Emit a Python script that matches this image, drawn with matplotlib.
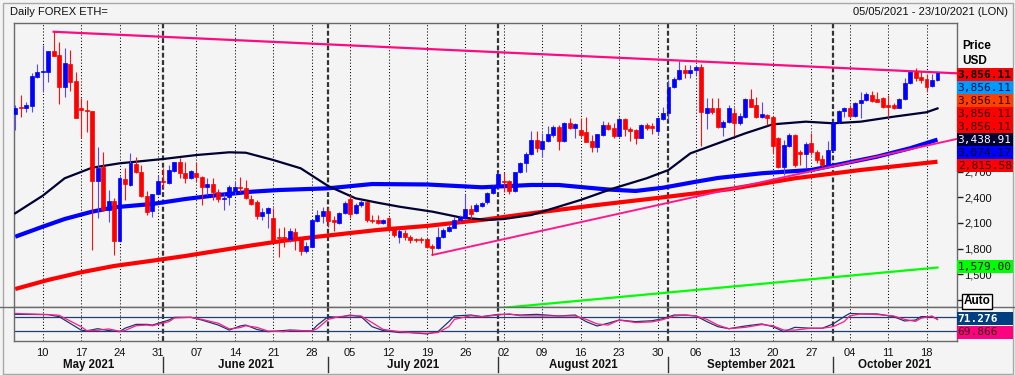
import numpy as np
import pandas as pd
import matplotlib
matplotlib.use("Agg")
import matplotlib.pyplot as plt
import matplotlib.transforms as mtransforms
from matplotlib.patches import Rectangle

plt.rcParams['font.family'] = ['Liberation Sans', 'DejaVu Sans']

START = "2021-05-05"
END = "2021-10-23"

# daily OHLC, 5 May -> 20 Oct 2021
opens = [
    3373, 3448, 3440, 3471, 3810, 3868, 3868, 4110, 4063, 3685, 3954, 3759, 3440, 3420,
    3409, 2594, 2758, 2251, 2356, 1889, 2614, 2544, 2785, 2699, 2419, 2240, 2434,
    # June
    2590, 2563, 2711, 2808, 2688, 2621, 2680, 2641, 2524, 2551, 2466, 2376, 2407, 2473, 2524,
    2512, 2376, 2349, 2181, 2220, 2154, 1940, 1940, 1909, 1998, 1909, 1772, 1823, 2127, 2185,
    # July
    2240, 2135, 2096, 2213, 2376, 2213, 2310, 2345, 2135, 2135, 2104, 2154, 2037, 1940, 1987,
    1940, 1913, 1909, 1909, 1831, 1803, 1932, 2010, 2037, 2135, 2154, 2263, 2244, 2300, 2350, 2450,
    # August
    2525, 2591, 2591, 2474, 2692, 2797, 2907, 3070, 2965, 3059, 3129, 3226, 3059, 3265, 3207,
    3187, 3160, 3059, 2992, 3129, 3246, 3214, 3121, 3316, 3199, 3187, 3098, 3246, 3238, 3176, 3316,
    # September
    3382, 3694, 3783, 3889, 3850, 3889, 3928, 3382, 3440, 3448, 3226, 3277, 3382, 3265, 3343,
    3546, 3479, 3343, 3362, 3343, 3090, 2759, 3004, 3129, 2926, 2903, 3031, 2934, 2848, 2778,
    # October
    2953, 3277, 3409, 3448, 3355, 3499, 3538, 3596, 3550, 3565, 3479, 3479, 3448, 3550, 3733,
    3861, 3811, 3783, 3705, 3772,
]
highs = [
    3479, 3596, 3518, 3849, 3958, 4180, 4110, 4336, 4211, 4149, 4122, 3868, 3557, 3537,
    3413, 2992, 2925, 2485, 2388, 2653, 2738, 2914, 2875, 2777, 2473, 2438, 2660,
    2738, 2777, 2816, 2855, 2816, 2719, 2816, 2649, 2621, 2629, 2497, 2446, 2544, 2582, 2641,
    2602, 2427, 2369, 2271, 2291, 2271, 2037, 2049, 2037, 2037, 1932, 1881, 2143, 2252, 2291,
    2291, 2181, 2232, 2361, 2427, 2330, 2369, 2349, 2193, 2193, 2150, 2166, 2057, 2026, 2018,
    1959, 1928, 1940, 1920, 1854, 2049, 2037, 2088, 2174, 2193, 2439, 2310, 2337, 2350, 2460, 2540,
    2692, 2692, 2603, 2700, 2817, 2934, 3175, 3175, 3156, 3238, 3246, 3246, 3285, 3324, 3265,
    3324, 3343, 3129, 3144, 3292, 3285, 3265, 3343, 3331, 3226, 3199, 3253, 3265, 3265, 3343, 3460,
    3772, 3811, 3994, 3947, 3947, 3947, 3955, 3557, 3557, 3565, 3304, 3479, 3448, 3382, 3565,
    3663, 3577, 3518, 3370, 3351, 3109, 3070, 3148, 3144, 2953, 3043, 3148, 2953, 2895, 3059,
    3292, 3421, 3460, 3479, 3518, 3628, 3628, 3643, 3628, 3577, 3596, 3499, 3557, 3799, 3889,
    3908, 3877, 3838, 3838, 3877,
]
lows = [
    3186, 3342, 3401, 3401, 3791, 3635, 3744, 4055, 3490, 3576, 3642, 3323, 3097, 3167,
    1784, 2154, 2243, 2115, 1725, 1881, 2368, 2536, 2680, 2407, 2193, 2173, 2427,
    2505, 2551, 2699, 2621, 2563, 2614, 2582, 2310, 2427, 2368, 2349, 2251, 2310, 2427, 2466,
    2376, 2306, 2143, 2135, 2037, 1893, 1706, 1815, 1881, 1784, 1726, 1753, 1815, 2115, 2096,
    2057, 2010, 2088, 2205, 2154, 2205, 2291, 2115, 2096, 2088, 2088, 2010, 1940, 1870, 1901,
    1870, 1881, 1862, 1803, 1726, 1792, 1920, 1998, 2037, 2115, 2135, 2150, 2232, 2285, 2320, 2440,
    2505, 2466, 2435, 2458, 2680, 2700, 2900, 2934, 2875, 3043, 3109, 2953, 3043, 3199, 3090,
    3109, 3043, 2934, 2934, 3121, 3187, 3098, 3109, 3121, 3059, 3020, 3090, 3187, 3137, 3129, 3304,
    3304, 3674, 3772, 3799, 3800, 3830, 3004, 3199, 3370, 3214, 3121, 3265, 3121, 3246, 3324,
    3452, 3331, 3331, 3246, 2914, 2747, 2661, 2992, 2759, 2778, 2739, 2895, 2797, 2759, 2770,
    2942, 3265, 3343, 3324, 3343, 3323, 3526, 3518, 3511, 3448, 3343, 3433, 3440, 3538, 3721,
    3760, 3733, 3628, 3694, 3760,
]
closes = [
    3448, 3440, 3479, 3822, 3868, 3875, 4110, 4055, 3685, 3966, 3752, 3331, 3420, 3409,
    2594, 2746, 2251, 2356, 1889, 2621, 2551, 2797, 2699, 2419, 2232, 2434, 2590,
    2575, 2719, 2808, 2688, 2621, 2707, 2641, 2524, 2551, 2466, 2376, 2395, 2524, 2524, 2505,
    2388, 2322, 2181, 2232, 2271, 1901, 1928, 1928, 2010, 1901, 1772, 1831, 2135, 2193, 2240,
    2127, 2115, 2220, 2337, 2205, 2310, 2349, 2131, 2123, 2096, 2135, 2018, 1959, 2010, 1932,
    1901, 1905, 1901, 1823, 1803, 1940, 2018, 2049, 2135, 2174, 2263, 2200, 2310, 2330, 2455, 2530,
    2669, 2575, 2474, 2692, 2797, 2907, 3070, 2973, 3059, 3137, 3226, 3059, 3265, 3207, 3253,
    3129, 3051, 2992, 3137, 3246, 3199, 3121, 3316, 3199, 3176, 3098, 3246, 3214, 3214, 3324, 3382,
    3694, 3783, 3889, 3850, 3889, 3928, 3394, 3440, 3401, 3226, 3285, 3448, 3265, 3355, 3546,
    3460, 3343, 3370, 3331, 3004, 2759, 3012, 3129, 2778, 2903, 3020, 2934, 2836, 2778, 2953,
    3285, 3409, 3440, 3355, 3499, 3538, 3604, 3526, 3518, 3460, 3452, 3448, 3550, 3733, 3861,
    3799, 3772, 3694, 3772, 3856,
]

# overlay lines, knots as (days since 5 May, price)
ma_black_days = [0, 5, 9, 14, 19, 27, 33, 39, 42, 47, 52, 57, 62, 66, 70, 76, 81, 86, 89, 94,
                 100, 103, 109, 115, 119, 123, 128, 133, 138, 144, 149, 154, 160, 166, 168]
ma_black_vals = [2213, 2418, 2622, 2746, 2797, 2848, 2894, 2926, 2921, 2836, 2739, 2532, 2388,
                 2337, 2290, 2232, 2166, 2135, 2146, 2193, 2310, 2369, 2505, 2622, 2719, 2914,
                 3031, 3148, 3253, 3284, 3265, 3284, 3342, 3394, 3439]
ma_blue_days = [0, 5, 9, 14, 18, 25, 31, 37, 43, 48, 57, 65, 75, 85, 94, 99, 103, 108, 113,
                118, 124, 128, 136, 145, 151, 157, 163, 168]
ma_blue_vals = [1939, 2056, 2146, 2232, 2283, 2322, 2380, 2427, 2465, 2485, 2505, 2555, 2550,
                2517, 2544, 2544, 2520, 2491, 2474, 2512, 2582, 2626, 2681, 2719, 2797, 2875,
                2973, 3074]
ma_red_days = [0, 6, 12, 18, 25, 31, 37, 43, 49, 55, 66, 75, 82, 85, 94, 106, 117, 130, 142,
               154, 168]
ma_red_vals = [1328, 1434, 1523, 1597, 1659, 1714, 1776, 1837, 1893, 1939, 2018, 2065, 2115,
               2135, 2213, 2310, 2392, 2494, 2622, 2719, 2816]
resist_days = [7, 172]
resist_vals = [4335, 3848]
support_days = [76, 172]
support_vals = [1726, 3089]
green_days = [85, 168]
green_vals = [1085, 1579]

# stochastic-style oscillator
osc_days = [0, 6, 8, 12, 13, 15, 17, 19, 20, 22, 24, 25, 28, 29, 32, 34, 37, 39, 41, 42, 44,
            46, 49, 50, 54, 55, 57, 59, 61, 63, 65, 67, 70, 72, 75, 77, 79, 80, 83, 85, 88,
            90, 92, 95, 99, 102, 104, 106, 108, 110, 113, 116, 118, 120, 122, 124, 126, 128,
            130, 133, 136, 138, 140, 142, 145, 147, 149, 151, 152, 154, 157, 160, 162, 164,
            165, 167, 168]
osc_k = [93, 92, 83, 24, 20, 30, 22, 17, 32, 49, 49, 46, 68, 80, 80, 68, 46, 24, 42, 46, 27,
         17, 22, 24, 20, 45, 83, 80, 90, 83, 39, 22, 13, 13, 7, 17, 61, 86, 90, 83, 93,
         93, 90, 93, 86, 90, 61, 42, 54, 68, 61, 65, 74, 90, 90, 86, 61, 39,
         30, 42, 51, 39, 17, 36, 32, 32, 51, 83, 97, 95, 95, 83, 64, 68,
         83, 83, 71.276]
osc_d = [97, 92, 89, 39, 22, 23, 29, 19, 22, 43, 46, 43, 61, 77, 80, 71, 54, 29, 35, 43, 36,
         20, 17, 23, 20, 30, 71, 83, 87, 86, 57, 27, 17, 13, 10, 13, 39, 71, 87, 83, 90,
         95, 87, 86, 86, 86, 71, 51, 46, 68, 57, 60, 70, 86, 90, 86, 71, 46,
         30, 36, 48, 43, 24, 24, 32, 32, 39, 61, 86, 95, 92, 86, 71, 62,
         76, 86, 69.866]
osc_levels = [80, 20]

price_ticks = list(range(1200, 3700, 300))
shown_tick_labels = [1500, 1800, 2100, 2400, 2700]   # the rest sit under the value tags

price_tags = [3856.11, 3856.11, 3856.11, 3856.11, 3856.11, 3438.91, 3074.17, 2815.58]
tag_faces = ['#ff0000', '#0099ff', '#ff4000', '#ff0000', '#ff0000', '#000033', '#0000ff', '#ff0000']
tag_text = ['#000000', '#001040', '#300000', '#300000', '#300000', '#ffffff', '#101010', '#300000']
green_tag = 1579.00

BG = '#f4f4f4'
FRAME = '#6a6a6a'
W, H = 1015, 375

fig = plt.figure(figsize=(W / 100, H / 100), dpi=100, facecolor=BG)
ax = fig.add_axes([14 / W, 1 - 307.3 / H, 942.7 / W, 284.6 / H], facecolor=BG)
axo = fig.add_axes([14 / W, 1 - 341 / H, 942.7 / W, 33.7 / H], facecolor=BG, sharex=ax)

all_days = pd.date_range(START, END, freq="D")
x = np.arange(len(closes))
o, h, l, c = (np.array(v, dtype=float) for v in (opens, highs, lows, closes))

# grid: dotted on Mondays, dashed on 1st of month
mondays = [i for i, d in enumerate(all_days) if d.weekday() == 0]
month_starts = [i for i, d in enumerate(all_days) if d.day == 1]
for a in (ax, axo):
    for m in mondays:
        a.axvline(m, color='black', lw=0.75, ls=(0, (1, 2)), zorder=1)
    for m in month_starts:
        a.axvline(m, color='#333333', lw=1.6, ls=(0, (2.2, 1.1)), zorder=1)

# moving averages + trendlines
ax.plot(ma_red_days, ma_red_vals, color='#ff0000', lw=3.0, zorder=2, solid_capstyle='butt')
ax.plot(ma_blue_days, ma_blue_vals, color='#0000ff', lw=3.0, zorder=2, solid_capstyle='butt')
ax.plot(ma_black_days, ma_black_vals, color='#000033', lw=1.6, zorder=3)
ax.plot(resist_days, resist_vals, color='#ff0a7f', lw=1.6, zorder=3)
ax.plot(support_days, support_vals, color='#ff1a8c', lw=1.4, zorder=3)
ax.plot(green_days, green_vals, color='#00ff00', lw=1.6, zorder=3)

# candles
up = c >= o
body_lo = np.minimum(o, c)
body_h = np.maximum(np.abs(c - o), 10)
for mask, body_col, wick_col in ((up, '#0000ff', '#5a46ff'), (~up, '#ff0000', '#ff1010')):
    ax.vlines(x[mask], l[mask], h[mask], color=wick_col, lw=0.8, zorder=4)
    ax.bar(x[mask], body_h[mask], bottom=body_lo[mask], width=0.72, color=body_col,
           edgecolor=body_col, lw=0.5, zorder=5)

ax.set_xlim(-0.22, 171.5)
ax.set_ylim(1114, 4441)
ax.yaxis.tick_right()
ax.set_yticks(price_ticks)
ax.set_yticklabels([f"{v:,}" if v in shown_tick_labels else "" for v in price_ticks])
ax.tick_params(axis='y', direction='out', length=4, width=1, color='#202020',
               labelsize=8, pad=1.5, labelcolor='#101010')
ax.tick_params(axis='x', bottom=False, labelbottom=False)
for s in ax.spines.values():
    s.set_color(FRAME)
    s.set_linewidth(1)

# oscillator panel
for lev in osc_levels:
    axo.axhline(lev, color='#1f3f70', lw=0.9, zorder=2)
axo.plot(osc_days, osc_k, color='#1a3a6e', lw=0.9, zorder=3)
axo.plot(osc_days, osc_d, color='#ff1a8c', lw=0.9, zorder=3)
axo.set_ylim(-24, 124)
axo.set_yticks([])
axo.set_xticks(mondays)
axo.set_xticklabels([all_days[m].strftime('%d') for m in mondays])
axo.tick_params(axis='x', length=0, pad=5, labelsize=8, labelcolor='#101010')
axo.spines['top'].set_visible(False)
for k in ('left', 'right', 'bottom'):
    axo.spines[k].set_color(FRAME)
    axo.spines[k].set_linewidth(1)

# month names + separators under the axis
blend = mtransforms.blended_transform_factory(axo.transData, axo.transAxes)
x0, x1 = ax.get_xlim()
months = all_days.to_period('M').unique()
for per in months:
    first = (per.start_time - pd.Timestamp(START)).days
    last = (per.end_time.normalize() - pd.Timestamp(START)).days + 1
    mid = (max(first, x0) + min(last, x1)) / 2
    axo.text(mid, -0.71, per.strftime('%B %Y'), transform=blend, ha='center', va='center',
             fontsize=8.3, fontweight='bold', color='#101010', clip_on=False)
for m in month_starts:
    axo.plot([m, m], [-0.47, -0.93], transform=blend, color='#333333', lw=1, clip_on=False)

# separator between panels, window frame
fig.add_artist(plt.Line2D([0, 1], [1 - 307.3 / H] * 2, transform=fig.transFigure,
                          color=FRAME, lw=1))
fig.add_artist(Rectangle((2.5 / W, 1.5 / H), 1010 / W, 371 / H, transform=fig.transFigure,
                         fill=False, edgecolor='#a8a8a8', lw=1))

fig.text(10 / W, 1 - 12 / H, "Daily FOREX ETH=", fontsize=8, va='center', color='#101010')
fig.text(1008 / W, 1 - 12 / H, "05/05/2021 - 23/10/2021 (LON)", fontsize=8, va='center',
         ha='right', color='#101010')
fig.text(962 / W, 1 - 46 / H, "Price", fontsize=8.5, fontweight='bold', va='center')
fig.text(962 / W, 1 - 60.7 / H, "USD", fontsize=8.5, fontweight='bold', va='center')
fig.text(977 / W, 1 - 301.5 / H, "Auto", fontsize=8.5, fontweight='bold', va='center',
         ha='center', bbox=dict(boxstyle='square,pad=0.12', facecolor='white',
                                edgecolor='black', lw=1))

TAG_X0, TAG_X1, TAG_H = 956.7, 1012.7, 13.0


def tag(ycenter, text, face, fg, bold=False):
    fig.add_artist(Rectangle((TAG_X0 / W, (ycenter - TAG_H / 2) / H), (TAG_X1 - TAG_X0) / W,
                             TAG_H / H, transform=fig.transFigure, facecolor=face,
                             edgecolor='none', zorder=4))
    fig.text((TAG_X0 + 1) / W, ycenter / H, text, fontsize=8, family='DejaVu Sans Mono',
             fontweight='bold' if bold else 'normal', color=fg, va='center', zorder=5)


fig.canvas.draw()
y_top = ax.transData.transform((0, closes[-1]))[1] - 2
for i, (val, face, fg) in enumerate(zip(price_tags, tag_faces, tag_text)):
    tag(y_top - i * TAG_H, f"{val:,.2f}", face, fg, bold=(i == 0))
tag(ax.transData.transform((0, green_tag))[1] + 1, f"{green_tag:,.2f}", '#00ff00', '#101010')
y_osc = axo.transData.transform((0, osc_k[-1]))[1] + 0.5
tag(y_osc, f"{osc_k[-1]:.3f}", '#003f7f', '#ffffff', bold=True)
tag(y_osc - TAG_H - 0.5, f"{osc_d[-1]:.3f}", '#ff0080', '#300010')

fig.savefig("out.png", dpi=100, facecolor=BG)
